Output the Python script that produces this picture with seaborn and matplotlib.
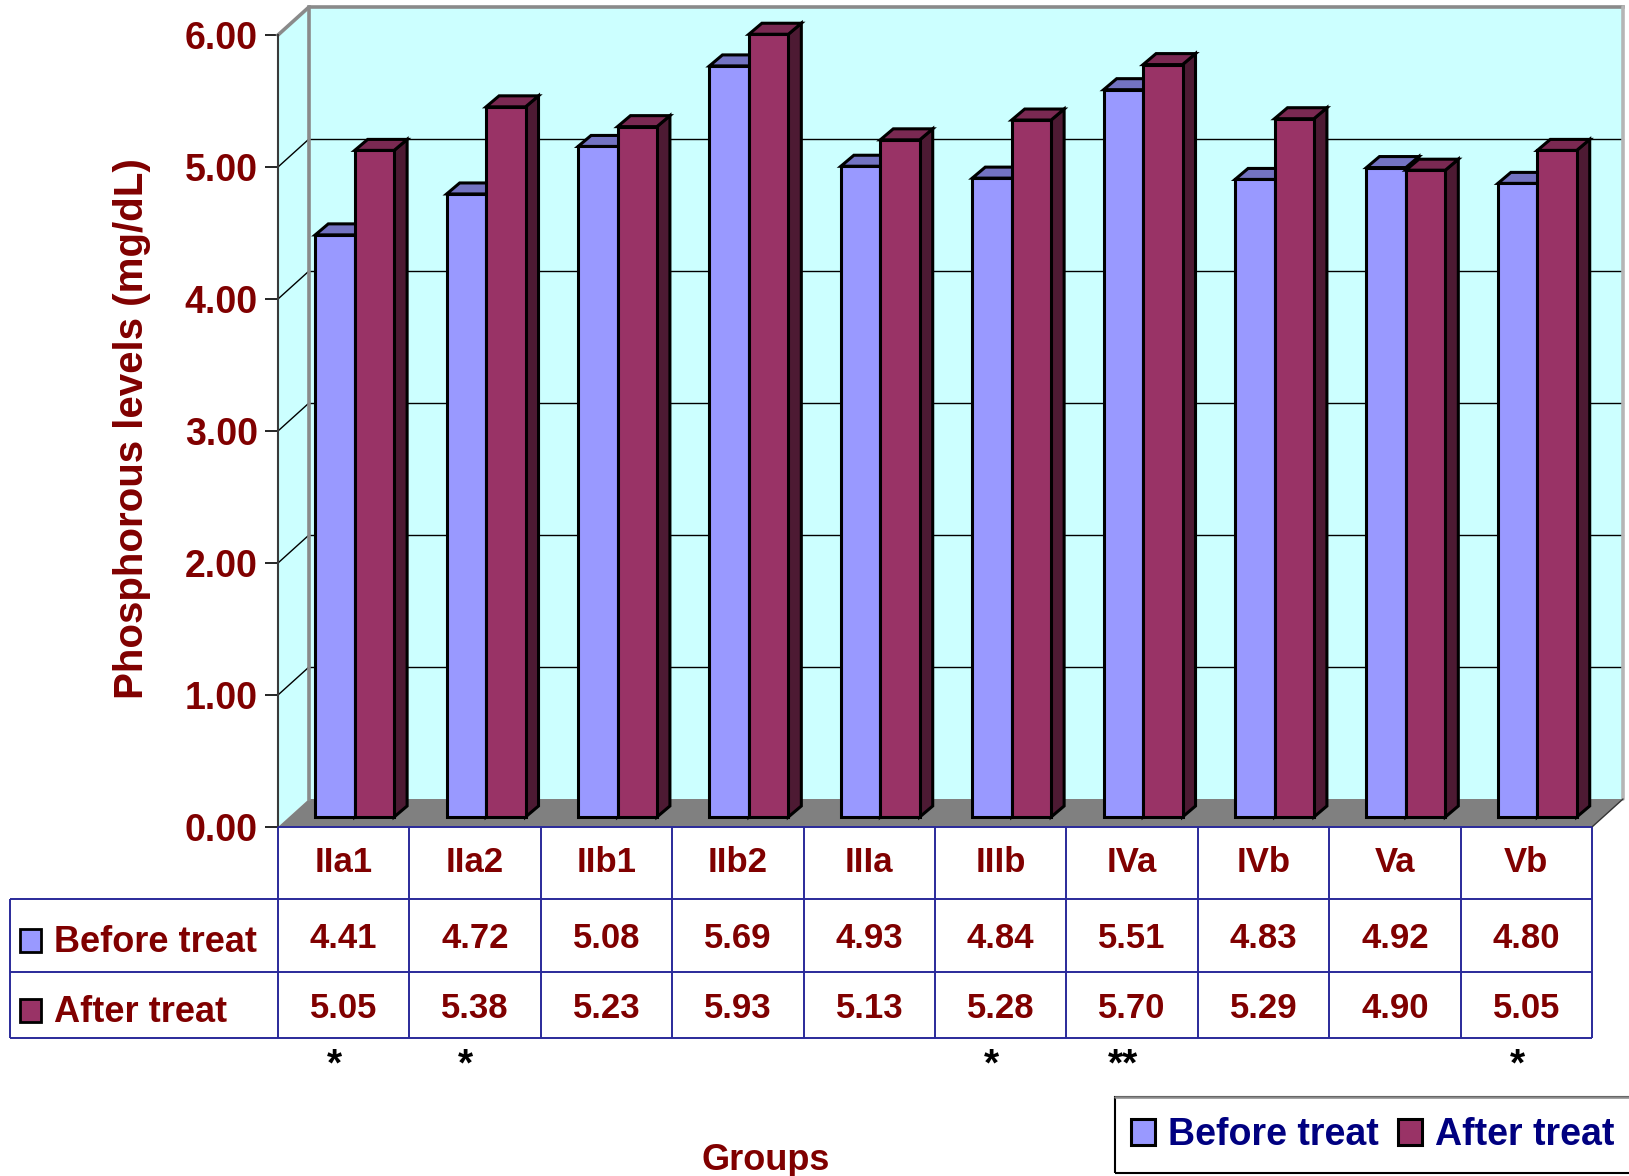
import matplotlib
matplotlib.use("Agg")
import matplotlib.pyplot as plt
from matplotlib.patches import Polygon, Rectangle, Patch
import pandas as pd
import seaborn as sns

# ---- data -------------------------------------------------------------
groups = ["IIa1", "IIa2", "IIb1", "IIb2", "IIIa", "IIIb", "IVa", "IVb", "Va", "Vb"]
before_treat = [4.41, 4.72, 5.08, 5.69, 4.93, 4.84, 5.51, 4.83, 4.92, 4.80]
after_treat = [5.05, 5.38, 5.23, 5.93, 5.13, 5.28, 5.70, 5.29, 4.90, 5.05]
series_names = ["Before treat", "After treat"]
significance = ["*", "*", "", "", "", "*", "**", "", "", "*"]
y_ticks = [0, 1, 2, 3, 4, 5, 6]

# ---- style ------------------------------------------------------------
sns.set_style("white")
plt.rcParams["font.family"] = ["Liberation Sans", "DejaVu Sans"]

DARK_RED = "#800000"
NAVY = "#000080"
WALL = "#CCFFFF"
FLOOR = "#808080"
FRONT = ["#9999FF", "#993366"]
TOP = ["#7373C2", "#7A2952"]
SIDE = ["#5A5A99", "#4D1A33"]
TABLE_LINE = "#2A2A9A"

W, H = 1629, 1176
fig = plt.figure(figsize=(W / 100, H / 100), dpi=100)
fig.patch.set_facecolor("white")

# front plane of the chart box, in pixels
px_l, px_r, px_b, px_t = 278, 1592, 827, 35
ax = fig.add_axes([px_l / W, 1 - px_b / H, (px_r - px_l) / W, (px_b - px_t) / H])
X0, X1 = -0.5, len(groups) - 0.5
Y0, Y1 = 0, 6


def dx(px):
    return px * (X1 - X0) / (px_r - px_l)


def dy(px):
    return px * (Y1 - Y0) / (px_b - px_t)


def xpx(p):
    return X0 + dx(p - px_l)


def ypx(p):
    return dy(px_b - p)


# ---- bars (front faces) -----------------------------------------------
df = pd.DataFrame({
    "Group": groups * 2,
    "Series": [series_names[0]] * len(groups) + [series_names[1]] * len(groups),
    "Level": before_treat + after_treat,
})
sns.barplot(data=df, x="Group", y="Level", hue="Series", order=groups,
            hue_order=series_names, palette=FRONT, saturation=1, width=0.6,
            edgecolor="black", linewidth=2.2, errorbar=None, legend=False, ax=ax)

ax.set_xlim(X0, X1)
ax.set_ylim(Y0, Y1)
ax.patch.set_visible(False)

# ---- room: back wall, side wall, floor ---------------------------------
DX, DY = dx(31), dy(28)
kw = dict(clip_on=False, linewidth=0)
ax.add_patch(Polygon([(X0 + DX, DY), (X1 + DX, DY), (X1 + DX, Y1 + DY), (X0 + DX, Y1 + DY)],
                     facecolor=WALL, zorder=0, **kw))
ax.add_patch(Polygon([(X0, 0), (X0 + DX, DY), (X0 + DX, Y1 + DY), (X0, Y1)],
                     facecolor=WALL, zorder=0, **kw))
ax.add_patch(Polygon([(X0, 0), (X1, 0), (X1 + DX, DY), (X0 + DX, DY)],
                     facecolor=FLOOR, zorder=0.5, **kw))
for k in y_ticks[1:-1]:
    ax.plot([X0 + DX, X1 + DX], [k + DY, k + DY], color="black", lw=1, zorder=0.6, clip_on=False)
    ax.plot([X0, X0 + DX], [k, k + DY], color="black", lw=1, zorder=0.6, clip_on=False)
edge = dict(color="#8A8A8A", lw=2.6, zorder=0.7, clip_on=False, solid_capstyle="projecting")
ax.plot([X0, X0 + DX, X1 + DX], [Y1, Y1 + DY, Y1 + DY], **edge)
ax.plot([X0 + DX, X0 + DX], [DY, Y1 + DY], **edge)
ax.plot([X1 + DX, X1 + DX], [DY, Y1 + DY], color="#B5B5B5", lw=2.6, zorder=0.7, clip_on=False)
ax.plot([X1, X1 + DX], [0, DY], color="#333333", lw=1, zorder=0.7, clip_on=False)

# ---- 3D shading on the bars --------------------------------------------
fx, fy = dx(11), dy(10)
bx, by = dx(13), dy(11)
for i, cont in enumerate(ax.containers):
    for p in cont.patches:
        p.set_x(p.get_x() + fx)
        p.set_y(p.get_y() + fy)
        p.set_zorder(3 + 0.2 * i + 0.1)
        p.set_joinstyle("miter")
        x, y, w, h = p.get_x(), p.get_y(), p.get_width(), p.get_height()
        top = Polygon([(x, y + h), (x + w, y + h), (x + w + bx, y + h + by), (x + bx, y + h + by)],
                      facecolor=TOP[i], edgecolor="black", lw=2.2, joinstyle="miter",
                      zorder=3 + 0.2 * i, clip_on=False)
        side = Polygon([(x + w, y), (x + w + bx, y + by), (x + w + bx, y + h + by), (x + w, y + h)],
                       facecolor=SIDE[i], edgecolor="black", lw=2.2, joinstyle="miter",
                       zorder=3 + 0.2 * i, clip_on=False)
        ax.add_patch(side)
        ax.add_patch(top)

# ---- axes decoration ---------------------------------------------------
for s in ["top", "right", "bottom"]:
    ax.spines[s].set_visible(False)
ax.spines["left"].set_color("#3A3A3A")
ax.spines["left"].set_linewidth(1.5)
ax.spines["left"].set_zorder(1)
ax.set_xticks([])
ax.set_yticks(y_ticks)
ax.set_yticklabels([f"{v:.2f}" for v in y_ticks], fontweight="bold")
ax.tick_params(axis="y", left=True, length=9.5, width=1.2, color="black", pad=5,
               labelsize=27, labelcolor=DARK_RED)

ax.set_ylabel("Phosphorous levels (mg/dL)", fontsize=29, fontweight="bold",
              color=DARK_RED, va="center")
ax.yaxis.set_label_coords((132 - px_l) / (px_r - px_l), (px_b - 429) / (px_b - px_t))
ax.set_xlabel("Groups", fontsize=26, fontweight="bold", color=DARK_RED, va="baseline")
ax.xaxis.set_label_coords((766 - px_l) / (px_r - px_l), (px_b - 1170) / (px_b - px_t))

# ---- data table under the chart ----------------------------------------
row_px = [827, 899, 972, 1038]
left_x = xpx(10)
line = dict(color=TABLE_LINE, lw=1.4, clip_on=False, zorder=4, solid_capstyle="butt")
ax.plot([X0, X1], [ypx(row_px[0])] * 2, **line)
for r in row_px[1:]:
    ax.plot([left_x, X1], [ypx(r)] * 2, **line)
for c in range(len(groups) + 1):
    ax.plot([X0 + c, X0 + c], [ypx(row_px[0]), ypx(row_px[-1])], **line)
ax.plot([left_x, left_x], [ypx(row_px[1]), ypx(row_px[-1])], **line)

cell_kw = dict(ha="center", va="baseline", fontsize=25, fontweight="bold",
               color=DARK_RED, clip_on=False, zorder=5)
for j, g in enumerate(groups):
    ax.text(j, ypx(872), g, **cell_kw)
    ax.text(j, ypx(948), f"{before_treat[j]:.2f}", **cell_kw)
    ax.text(j, ypx(1018), f"{after_treat[j]:.2f}", **cell_kw)
    if significance[j]:
        ax.text(j - 0.07, ypx(1075), significance[j], ha="center", va="baseline",
                fontsize=28, fontweight="bold", color="black", clip_on=False)

for i, (name, base) in enumerate(zip(series_names, [952, 1022])):
    ax.add_patch(Rectangle((xpx(20), ypx(base)), dx(21), dy(23), facecolor=FRONT[i],
                           edgecolor="black", lw=2, clip_on=False, zorder=5))
    ax.text(xpx(54), ypx(base), name, ha="left", va="baseline", fontsize=26,
            fontweight="bold", color=DARK_RED, clip_on=False, zorder=5)

# ---- legend ------------------------------------------------------------
handles = [Patch(facecolor=FRONT[i], edgecolor="black", linewidth=2.2) for i in range(2)]
fig.legend(handles, series_names, loc="center left",
           bbox_to_anchor=(1131 / W, 1 - 1135 / H), ncol=2, frameon=False,
           borderaxespad=0, borderpad=0, handlelength=0.63, handleheight=0.7,
           handletextpad=0.35, columnspacing=0.53,
           prop=dict(size=27, weight="bold"), labelcolor=NAVY)
fig.add_artist(Rectangle((1115 / W, 1 - 1173 / H), (1660 - 1115) / W, (1173 - 1097) / H,
                         transform=fig.transFigure, fill=False, edgecolor="black", lw=1.5))
fig.add_artist(plt.Line2D([1115 / W, 1], [1 - 1097 / H] * 2, transform=fig.transFigure,
                          color="#8A8A8A", lw=1.8))

fig.savefig("out.png", dpi=100, facecolor="white")
